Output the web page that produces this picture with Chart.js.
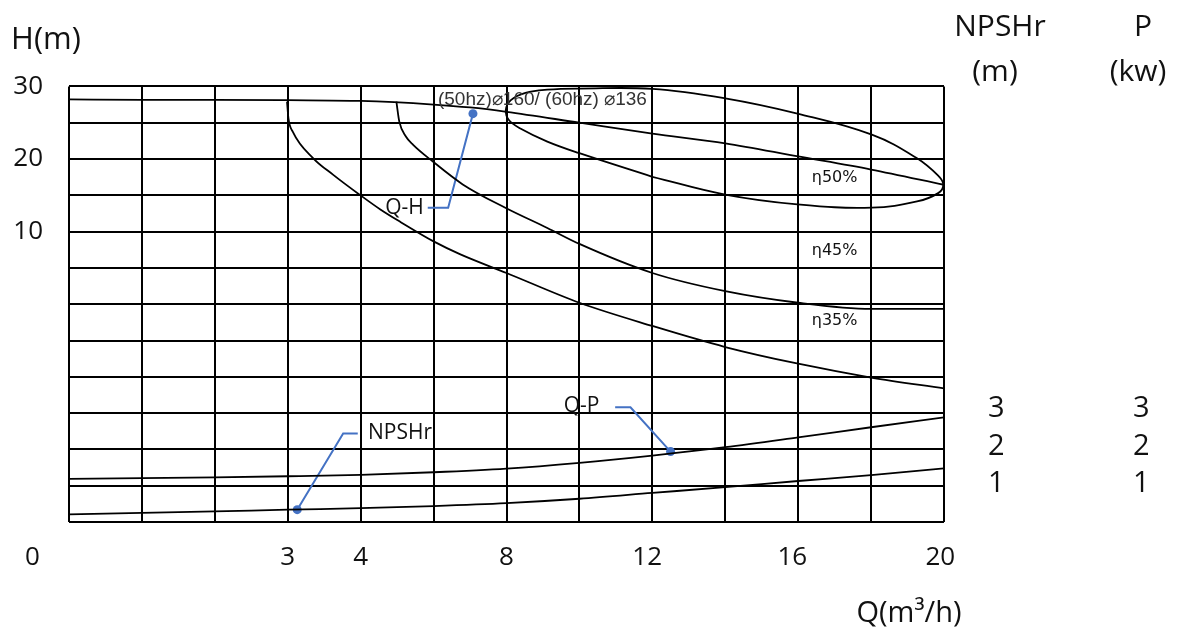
<!DOCTYPE html>
<html>
<head>
<meta charset="utf-8">
<script src="https://cdn.jsdelivr.net/npm/chart.js@4"></script>
<style>
  body { margin: 0; background: #fff; }
</style>
</head>
<body>
<canvas id="pump" width="1183" height="635"></canvas>
<script>
// chart is drawn on a 12 x 12 grid; x = grid column, y = grid row from bottom
const gridLines = [0, 1, 2, 3, 4, 5, 6, 7, 8, 9, 10, 11, 12];

const xTickPos = [-0.5, 3, 4, 6, 7.93, 9.92, 11.95];
const xTickLabels = ['0', '3', '4', '8', '12', '16', '20'];
const yTickPos = [8, 10, 12];
const yTickLabels = ['10', '20', '30'];
const rightTickPos = [1.06, 2.08, 3.12];
const npshrTickLabels = ['1', '2', '3'];
const powerTickLabels = ['1', '2', '3'];

// Q-H
const qhX = [0, 1, 2, 3, 4, 5, 5.5, 6, 7, 8, 9, 10, 11, 12];
const qhY = [11.64, 11.63, 11.63, 11.62, 11.6, 11.5, 11.42, 11.3, 11.0, 10.7, 10.43, 10.07, 9.71, 9.29];

// efficiency 50% loop
const eta50X = [8.0, 7.0, 6.56, 6.19, 6.03, 5.99, 6.06, 6.26, 6.56, 7.01, 8.0, 9.0, 9.99, 11.01, 11.63, 11.92, 11.99, 11.92, 11.63, 11.01, 9.99, 9.0, 8.0];
const eta50Y = [9.51, 10.16, 10.48, 10.84, 11.08, 11.35, 11.62, 11.82, 11.91, 11.94, 11.93, 11.67, 11.25, 10.67, 10.02, 9.54, 9.29, 9.06, 8.83, 8.66, 8.75, 9.02, 9.51];

// efficiency 45%
const eta45X = [4.49, 4.53, 4.62, 4.72, 4.99, 5.4, 5.99, 6.56, 7.0, 8.0, 9.0, 10.0, 11.0, 12.0];
const eta45Y = [11.58, 11.03, 10.62, 10.39, 9.93, 9.3, 8.65, 8.1, 7.66, 6.86, 6.36, 6.04, 5.87, 5.87];

// efficiency 35%
const eta35X = [2.99, 3.01, 3.07, 3.35, 3.62, 3.99, 4.27, 4.55, 5.0, 5.36, 6.0, 7.0, 8.0, 9.0, 10.0, 11.0, 12.0];
const eta35Y = [11.58, 11.11, 10.75, 10.02, 9.57, 9.01, 8.61, 8.26, 7.73, 7.38, 6.86, 6.04, 5.4, 4.82, 4.36, 3.98, 3.68];

// Q-P
const qpX = [0, 1, 2, 3, 4, 5, 6, 7, 8, 9, 10, 11, 12];
const qpY = [1.19, 1.21, 1.23, 1.26, 1.3, 1.37, 1.47, 1.63, 1.83, 2.06, 2.33, 2.61, 2.88];

// NPSHr
const npX = [0, 1, 2, 3, 4, 5, 6, 7, 8, 9, 10, 11, 12];
const npY = [0.21, 0.25, 0.29, 0.34, 0.38, 0.44, 0.52, 0.64, 0.8, 0.96, 1.13, 1.29, 1.48];

// callout leaders (dot first / last)
const qhLeadX = [5.54, 5.2, 4.92];
const qhLeadY = [11.25, 8.66, 8.66];
const npLeadX = [3.13, 3.76, 3.96];
const npLeadY = [0.34, 2.44, 2.44];
const qpLeadX = [7.49, 7.7, 8.25];
const qpLeadY = [3.16, 3.16, 1.94];

const pts = (xs, ys) => xs.map((x, i) => ({ x, y: ys[i] }));

const curve = (data, mode) => ({
  data, borderColor: '#000', borderWidth: 1.8, pointRadius: 0, fill: false,
  tension: 0.4, cubicInterpolationMode: mode || 'default'
});
const leader = (data, dotIndex) => ({
  data, borderColor: '#4472C4', borderWidth: 2, tension: 0, fill: false,
  pointRadius: data.map((p, i) => i === dotIndex ? 4.5 : 0),
  pointBackgroundColor: '#4472C4', pointBorderWidth: 0
});

// text items placed in grid coordinates
const callouts = [
  { text: 'Q-H', x: 4.6, y: 8.66, font: '21px "Open Sans"' },
  { text: 'NPSHr', x: 4.54, y: 2.44, font: '21px "Open Sans"' },
  { text: 'Q-P', x: 7.03, y: 3.2, font: '21px "Open Sans"' },
  { text: 'η50%', x: 10.5, y: 9.47, font: '16px "DejaVu Sans"' },
  { text: 'η45%', x: 10.5, y: 7.46, font: '16px "DejaVu Sans"' },
  { text: 'η35%', x: 10.5, y: 5.54, font: '16px "DejaVu Sans"' }
];

const textPlugin = {
  id: 'pumpText',
  afterDraw(chart) {
    const { ctx, scales } = chart;
    ctx.save();
    ctx.fillStyle = '#111';
    ctx.textBaseline = 'middle';
    ctx.textAlign = 'center';
    callouts.forEach(c => {
      ctx.font = c.font;
      ctx.fillText(c.text, scales.x.getPixelForValue(c.x), scales.y.getPixelForValue(c.y));
    });
    ctx.textAlign = 'left';
    ctx.fillStyle = '#333';
    ctx.font = '19px "Liberation Sans"';
    ctx.fillText('(50hz)⌀160/ (60hz) ⌀136', scales.x.getPixelForValue(5.06), scales.y.getPixelForValue(11.63));

    ctx.fillStyle = '#111';
    ctx.textBaseline = 'alphabetic';
    ctx.textAlign = 'center';
    ctx.font = '31px "Open Sans"';
    ctx.fillText('H(m)', 46, 49);
    ctx.font = '30px "Open Sans"';
    ctx.fillText('NPSHr', 1000, 36);
    ctx.fillText('(m)', 995, 81);
    ctx.fillText('P', 1143, 36);
    ctx.fillText('(kw)', 1138, 81);
    ctx.font = '29px "Open Sans"';
    ctx.fillText('Q(m³/h)', 909, 622);
    ctx.restore();
  }
};

const labelTicks = (positions) => (scale) => {
  scale.ticks = positions.map(v => ({ value: v }));
};

new Chart(document.getElementById('pump'), {
  type: 'scatter',
  data: {
    datasets: [
      curve(pts(qhX, qhY), 'monotone'),
      curve(pts(eta50X, eta50Y)),
      curve(pts(eta45X, eta45Y), 'monotone'),
      curve(pts(eta35X, eta35Y), 'monotone'),
      curve(pts(qpX, qpY), 'monotone'),
      curve(pts(npX, npY), 'monotone'),
      leader(pts(qhLeadX, qhLeadY), 0),
      leader(pts(npLeadX, npLeadY), 0),
      leader(pts(qpLeadX, qpLeadY), 2)
    ].map(d => ({ ...d, showLine: true }))
  },
  options: {
    responsive: false,
    animation: false,
    events: [],
    layout: { padding: { top: 84, right: 0, left: 0, bottom: 0 } },
    plugins: { legend: { display: false }, tooltip: { enabled: false } },
    scales: {
      x: {
        type: 'linear', position: 'bottom', min: 0, max: 12,
        afterBuildTicks: labelTicks(gridLines),
        grid: { color: '#000', lineWidth: 2, drawTicks: false },
        border: { display: false },
        ticks: { display: false },
        afterFit: (s) => { s.height = 0; }
      },
      xq: {
        type: 'linear', position: 'bottom', min: 0, max: 12,
        afterBuildTicks: labelTicks(xTickPos),
        grid: { display: false, drawTicks: false },
        border: { display: false },
        ticks: {
          autoSkip: false, maxRotation: 0, padding: 20,
          color: '#111', font: { family: 'Open Sans', size: 26 },
          callback: (v, i) => xTickLabels[i]
        },
        afterFit: (s) => { s.height = 113; }
      },
      y: {
        type: 'linear', position: 'left', min: 0, max: 12,
        afterBuildTicks: labelTicks(gridLines),
        grid: { color: '#000', lineWidth: 2, drawTicks: false },
        border: { display: false },
        ticks: {
          padding: 26, color: '#111', font: { family: 'Open Sans', size: 26 },
          callback: (v) => { const i = yTickPos.indexOf(v); return i < 0 ? '' : yTickLabels[i]; }
        },
        afterFit: (s) => { s.width = 69; }
      },
      yN: {
        type: 'linear', position: 'right', min: 0, max: 12, weight: 1,
        afterBuildTicks: labelTicks(rightTickPos),
        grid: { display: false, drawTicks: false },
        border: { display: false },
        ticks: {
          padding: 44, color: '#111', font: { family: 'Open Sans', size: 29 },
          callback: (v, i) => npshrTickLabels[i]
        },
        afterFit: (s) => { s.width = 120; }
      },
      yP: {
        type: 'linear', position: 'right', min: 0, max: 12, weight: 2,
        afterBuildTicks: labelTicks(rightTickPos),
        grid: { display: false, drawTicks: false },
        border: { display: false },
        ticks: {
          padding: 69, color: '#111', font: { family: 'Open Sans', size: 29 },
          callback: (v, i) => powerTickLabels[i]
        },
        afterFit: (s) => { s.width = 119; }
      }
    }
  },
  plugins: [textPlugin]
});
</script>
</body>
</html>
